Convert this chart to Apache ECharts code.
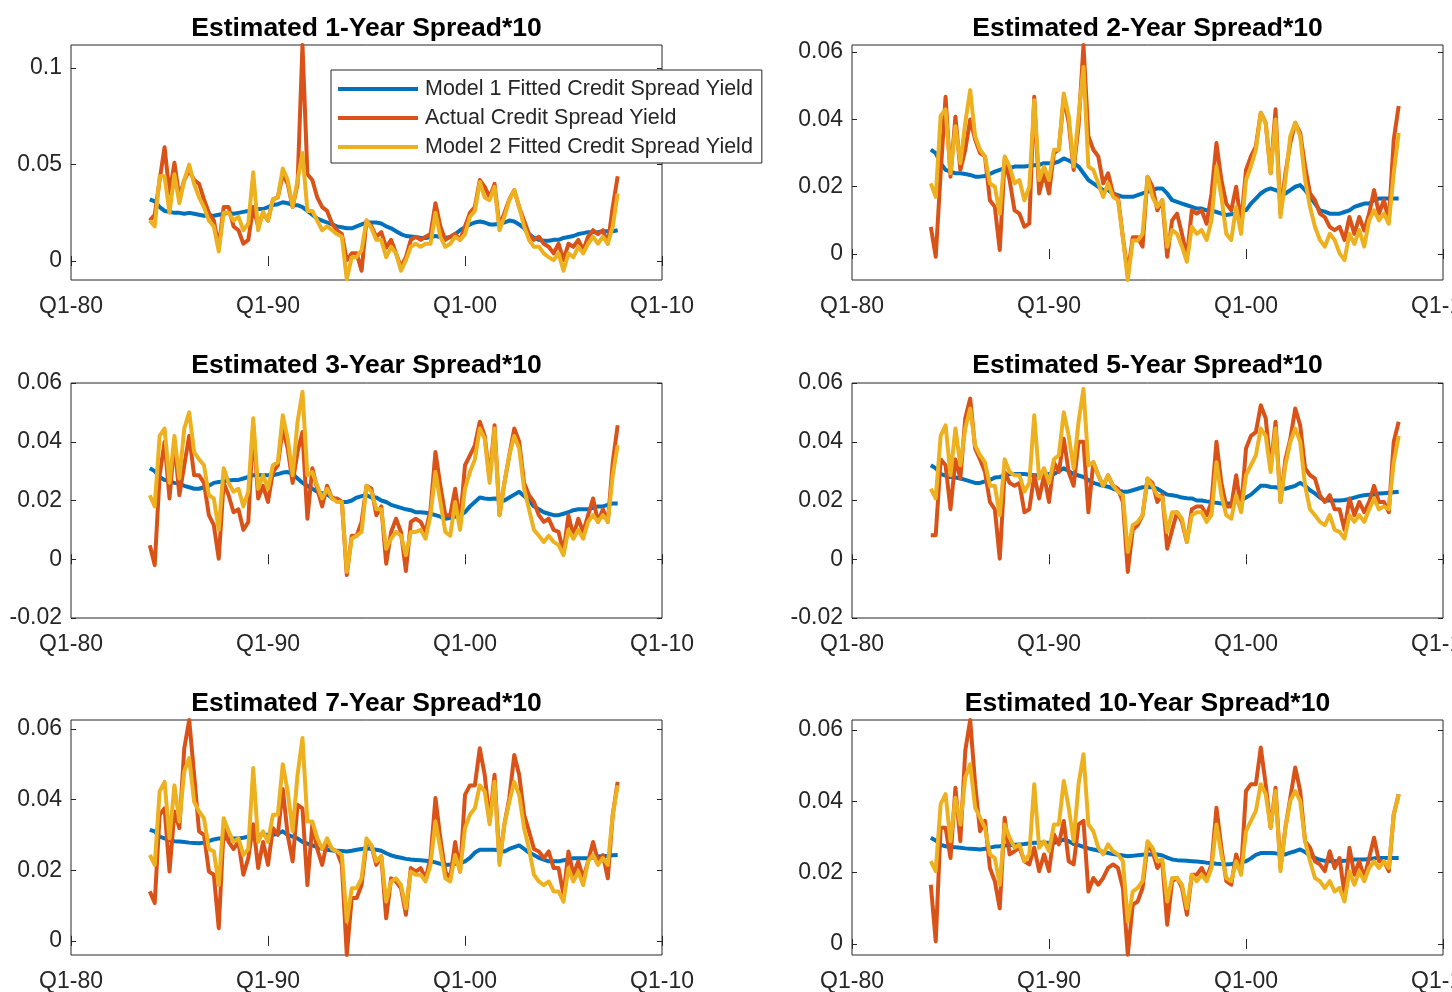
<!DOCTYPE html>
<html>
<head>
<meta charset="utf-8">
<script src="https://cdn.jsdelivr.net/npm/echarts@6/dist/echarts.min.js"></script>
<style>
  html, body { margin: 0; padding: 0; background: #ffffff; }
  #chart { width: 1452px; height: 992px; }
</style>
</head>
<body>
<div id="chart"></div>
<script>
// Quarterly observations starting in the first quarter of 1984
const firstYear = 1984;
const quarterCount = 96;

const xTickValues = [1980, 1990, 2000, 2010];
const xTickLabels = ['Q1-80', 'Q1-90', 'Q1-00', 'Q1-10'];

const seriesNames = [
  'Model 1 Fitted Credit Spread Yield',
  'Actual Credit Spread Yield',
  'Model 2 Fitted Credit Spread Yield'
];

const panelTitles = [
  'Estimated 1-Year Spread*10',
  'Estimated 2-Year Spread*10',
  'Estimated 3-Year Spread*10',
  'Estimated 5-Year Spread*10',
  'Estimated 7-Year Spread*10',
  'Estimated 10-Year Spread*10'
];

// y-axis limits and tick values for each panel
const yLimits1y = [-0.0098, 0.112];
const yLimits2y = [-0.0077, 0.0621];
const yLimits3y = [-0.02, 0.06];
const yLimits5y = [-0.02, 0.06];
const yLimits7y = [-0.004, 0.0625];
const yLimits10y = [-0.0031, 0.0628];
const yTicks1y = [0, 0.05, 0.1];
const yTicks2y = [0, 0.02, 0.04, 0.06];
const yTicks3y = [-0.02, 0, 0.02, 0.04, 0.06];
const yTicks5y = [-0.02, 0, 0.02, 0.04, 0.06];
const yTicks7y = [0, 0.02, 0.04, 0.06];
const yTicks10y = [0, 0.02, 0.04, 0.06];

// ---- 1-year ----
const model1_1y = [
  .032,.031,.028,.026,.0255,.025,.025,.0245,.025,.0245,
  .024,.0235,.0235,.0235,.024,.0245,.025,.0245,.025,.0255,
  .026,.027,.027,.027,.028,.029,.0295,.0305,.030,.029,
  .029,.028,.026,.024,.022,.021,.020,.019,.018,.0175,
  .017,.017,.018,.019,.020,.020,.020,.0195,.018,.017,
  .0155,.014,.013,.0128,.0125,.012,.012,.0125,.013,.0125,
  .012,.0125,.014,.016,.0175,.019,.020,.0205,.020,.019,
  .019,.0195,.020,.021,.0205,.019,.017,.014,.012,.011,
  .0105,.0105,.011,.011,.012,.0125,.013,.014,.0145,.015,
  .015,.015,.0155,.0155,.0155,.016
];
const actual_1y = [
  .021,.024,.042,.059,.035,.051,.033,.042,.047,.042,
  .040,.032,.025,.021,.0074,.028,.028,.018,.016,.009,
  .011,.028,.018,.025,.021,.032,.033,.045,.040,.028,
  .040,.112,.045,.042,.033,.028,.026,.0195,.016,.014,
  .0005,.004,.004,-.005,.021,.018,.0126,.015,.007,.011,
  .004,-.003,.002,.011,.0126,.011,.0126,.014,.030,.018,
  .011,.0126,.014,.011,.018,.025,.028,.042,.0385,.033,
  .040,.018,.025,.032,.0368,.028,.021,.014,.011,.0126,
  .009,.0074,.004,.009,.0005,.009,.0074,.011,.0057,.0126,
  .016,.014,.016,.009,.028,.044
];
const model2_1y = [
  .021,.018,.044,.044,.025,.045,.030,.042,.050,.040,
  .033,.028,.021,.018,.005,.025,.025,.021,.023,.016,
  .0195,.046,.016,.0255,.021,.032,.033,.048,.042,.028,
  .042,.056,.026,.026,.021,.016,.018,.016,.014,.0126,
  -.0095,.002,.002,.0057,.021,.017,.011,.011,.002,.0074,
  .004,-.005,.0005,.0074,.009,.0074,.009,.009,.025,.0126,
  .0074,.009,.0126,.011,.014,.023,.026,.041,.033,.0316,
  .0385,.016,.023,.0316,.0368,.028,.018,.011,.0074,.0074,
  .004,.002,.0005,.004,-.005,.004,.002,.0074,.004,.009,
  .0126,.009,.0126,.009,.018,.035
];

// ---- 2-year ----
const model1_2y = [
  .031,.030,.027,.025,.0245,.024,.024,.0238,.0235,.023,
  .023,.0232,.0238,.0245,.025,.0255,.0255,.026,.026,.026,
  .0262,.0264,.0265,.027,.027,.027,.0275,.0284,.0278,.027,
  .026,.024,.022,.021,.020,.019,.019,.018,.0175,.017,
  .017,.017,.0175,.018,.0185,.019,.0195,.0195,.018,.016,
  .0155,.015,.0145,.014,.0135,.0135,.013,.013,.0125,.012,
  .0116,.0118,.012,.013,.013,.015,.0165,.018,.019,.0195,
  .019,.0185,.018,.019,.020,.0205,.019,.017,.015,.013,
  .0126,.012,.012,.012,.0125,.013,.014,.0145,.015,.015,
  .016,.0165,.0165,.0165,.0165,.0165
];
const actual_2y = [
  .0081,-.0008,.024,.0467,.023,.0408,.025,.031,.040,.034,
  .030,.029,.016,.014,.0012,.028,.022,.013,.012,.0081,
  .0091,.0467,.018,.024,.018,.030,.031,.0467,.039,.025,
  .038,.0621,.035,.031,.029,.021,.024,.018,.017,.005,
  -.0057,.005,.005,.0022,.023,.020,.013,.016,-.0008,.010,
  .012,.006,-.0008,.013,.012,.013,.009,.018,.033,.022,
  .015,.013,.020,.009,.025,.029,.032,.042,.039,.024,
  .043,.012,.024,.033,.039,.036,.026,.018,.016,.012,
  .011,.0081,.0071,.0081,.0042,.011,.006,.011,.007,.012,
  .019,.012,.016,.010,.034,.044
];
const model2_2y = [
  .021,.017,.041,.043,.024,.038,.027,.039,.0487,.035,
  .031,.029,.021,.020,.012,.029,.026,.021,.022,.016,
  .020,.0457,.022,.026,.022,.031,.031,.0477,.041,.026,
  .041,.0556,.026,.025,.021,.017,.021,.017,.016,.005,
  -.0077,.004,.004,.006,.023,.017,.014,.016,.0022,.0071,
  .006,.0022,-.0023,.0081,.006,.0071,.0042,.010,.026,.017,
  .006,.0042,.014,.006,.022,.026,.031,.042,.039,.024,
  .040,.011,.022,.035,.039,.035,.022,.014,.0081,.0042,
  .0022,.006,.0042,.0002,-.0018,.006,.003,.0071,.0022,.010,
  .013,.010,.012,.009,.024,.036
];

// ---- 3-year ----
const model1_3y = [
  .031,.030,.028,.027,.0265,.026,.0258,.025,.0245,.024,
  .024,.0245,.025,.026,.0263,.0265,.0268,.027,.027,.0275,
  .028,.0286,.0286,.0286,.0286,.0286,.029,.0295,.0297,.029,
  .0275,.026,.025,.024,.023,.0225,.022,.021,.020,.0195,
  .0195,.020,.021,.0215,.0218,.021,.021,.020,.0195,.0185,
  .018,.0175,.017,.0167,.016,.016,.0158,.0155,.015,.0145,
  .0138,.014,.0145,.015,.016,.018,.0195,.021,.0207,.0205,
  .0207,.0205,.020,.021,.022,.023,.0215,.020,.018,.017,
  .016,.0155,.015,.015,.0155,.016,.0167,.017,.017,.017,
  .0175,.018,.018,.0185,.019,.019
];
const actual_3y = [
  .0048,-.002,.0286,.040,.0207,.040,.0218,.032,.042,.0286,
  .0286,.026,.015,.0116,.0002,.026,.0218,.016,.017,.010,
  .0127,.0456,.0207,.025,.0195,.0297,.032,.0445,.0377,.026,
  .0365,.0433,.0138,.031,.024,.018,.025,.0207,.0207,.0195,
  -.0054,.008,.008,.0127,.025,.024,.015,.018,-.0015,.0093,
  .0138,.0093,-.004,.0127,.0138,.0127,.0093,.017,.0365,.025,
  .015,.015,.024,.0127,.032,.0354,.0388,.0468,.042,.0275,
  .0456,.015,.026,.0354,.0445,.040,.026,.0218,.0195,.015,
  .0127,.0138,.010,.0093,.0025,.015,.008,.0138,.0093,.015,
  .0207,.0127,.017,.0127,.033,.0456
];
const model2_3y = [
  .0218,.018,.042,.0445,.026,.042,.0275,.0445,.050,.0365,
  .034,.032,.0218,.0207,.010,.031,.026,.023,.024,.018,
  .023,.048,.024,.0286,.024,.032,.033,.049,.041,.0286,
  .0468,.057,.0286,.0297,.025,.0207,.024,.0207,.0195,.0195,
  -.0043,.007,.008,.0093,.025,.023,.017,.017,.0036,.007,
  .0093,.008,.0014,.0093,.0093,.010,.007,.015,.0297,.0195,
  .0093,.008,.0195,.010,.024,.0297,.034,.0445,.041,.026,
  .0445,.015,.026,.0354,.042,.0377,.024,.017,.010,.008,
  .0059,.008,.0059,.0048,.0014,.010,.007,.010,.007,.0127,
  .015,.0127,.015,.0127,.0286,.0388
];

// ---- 5-year ----
const model1_5y = [
  .032,.031,.029,.0285,.028,.0278,.0275,.027,.0265,.026,
  .026,.0265,.027,.0278,.028,.0285,.029,.029,.029,.029,
  .0288,.0286,.0286,.0288,.029,.029,.030,.031,.030,.029,
  .0285,.028,.027,.026,.0255,.025,.0247,.024,.0235,.023,
  .023,.0235,.024,.0245,.0246,.0245,.024,.023,.022,.0218,
  .0215,.021,.0208,.0207,.020,.020,.0197,.0195,.0192,.019,
  .019,.019,.0195,.020,.021,.022,.0235,.025,.025,.0246,
  .0245,.0242,.024,.0245,.025,.026,.025,.0235,.0224,.021,
  .020,.020,.020,.020,.0202,.0205,.021,.0215,.0218,.022,
  .022,.0224,.0225,.0226,.0228,.023
];
const actual_5y = [
  .0082,.0082,.034,.032,.017,.034,.0275,.048,.0547,.0377,
  .034,.0297,.0195,.017,.0002,.0297,.026,.025,.026,.016,
  .017,.0286,.0207,.0286,.0195,.033,.0297,.041,.0297,.025,
  .040,.040,.016,.033,.0286,.025,.0286,.025,.024,.0195,
  -.0043,.010,.0116,.015,.0275,.026,.0195,.022,.0036,.010,
  .016,.0127,.0059,.017,.018,.018,.015,.0195,.040,.026,
  .018,.018,.0286,.017,.0377,.042,.0433,.0524,.048,.031,
  .0468,.0195,.034,.041,.0513,.0456,.031,.0286,.0275,.0218,
  .0195,.0218,.017,.017,.010,.0207,.015,.0195,.016,.0195,
  .025,.0195,.0195,.016,.040,.0468
];
const model2_5y = [
  .024,.0207,.042,.0456,.0286,.0445,.032,.0445,.0513,.0388,
  .0354,.033,.025,.025,.015,.034,.0297,.0286,.0286,.023,
  .026,.049,.0275,.031,.026,.034,.0354,.050,.042,.031,
  .0468,.058,.032,.033,.0286,.025,.0286,.025,.023,.0218,
  .0025,.0116,.0127,.015,.0275,.025,.0218,.021,.0093,.016,
  .016,.0138,.0059,.015,.016,.016,.0127,.015,.033,.0218,
  .015,.0138,.0218,.016,.0286,.032,.0354,.0445,.042,.0297,
  .0445,.0195,.032,.040,.0445,.040,.025,.017,.015,.0127,
  .0116,.015,.010,.0093,.007,.015,.0127,.015,.0127,.017,
  .0207,.017,.018,.017,.033,.042
];

// ---- 7-year ----
const model1_7y = [
  .0314,.031,.0295,.029,.0285,.0282,.0281,.028,.0278,.0277,
  .0276,.0278,.0282,.0287,.029,.029,.029,.029,.029,.0292,
  .0295,.030,.030,.030,.030,.030,.0303,.031,.030,.0295,
  .029,.028,.0275,.027,.0265,.026,.0258,.0256,.0255,.0254,
  .0253,.0255,.0258,.026,.0262,.026,.0258,.0255,.0248,.0242,
  .0238,.0235,.0232,.023,.0229,.0228,.0227,.0225,.0222,.0218,
  .0215,.0216,.0218,.022,.0225,.0235,.025,.0258,.0258,.0258,
  .0258,.0256,.0253,.026,.0265,.027,.026,.025,.0243,.0235,
  .023,.0225,.0225,.0225,.0228,.023,.0234,.0234,.0234,.0234,
  .0236,.0239,.024,.024,.0242,.0243
];
const actual_7y = [
  .014,.0107,.0357,.0375,.0196,.0366,.0319,.0545,.0625,.047,
  .031,.030,.0196,.0187,.0036,.0319,.028,.026,.028,.0187,
  .0234,.033,.0206,.028,.0215,.0319,.030,.043,.030,.0225,
  .0385,.0375,.0158,.033,.026,.0215,.028,.026,.0253,.0215,
  -.004,.0121,.0121,.0158,.028,.027,.0215,.024,.0064,.0177,
  .0168,.0149,.0074,.0206,.0196,.0206,.0177,.0234,.0404,.029,
  .0196,.0177,.028,.0196,.0413,.044,.044,.0545,.047,.0338,
  .047,.0225,.033,.0404,.0526,.047,.0357,.031,.026,.0253,
  .0234,.0253,.0206,.0206,.013,.0253,.0187,.0225,.0177,.0225,
  .028,.0225,.0243,.0177,.0357,.045
];
const model2_7y = [
  .0243,.0215,.0423,.045,.029,.044,.0338,.048,.0517,.0394,
  .0366,.0347,.026,.0253,.0158,.0347,.031,.028,.029,.0243,
  .026,.0489,.028,.031,.028,.0357,.0357,.050,.0423,.031,
  .047,.0574,.0338,.0338,.029,.026,.029,.026,.0253,.0243,
  .0055,.0149,.0149,.0177,.029,.027,.0225,.024,.0111,.0168,
  .0177,.0158,.0092,.0196,.0187,.0187,.0168,.0215,.0338,.026,
  .0177,.0168,.0243,.0196,.0319,.0357,.0375,.044,.0423,.033,
  .045,.0215,.033,.0394,.045,.0413,.0319,.026,.0187,.0168,
  .0158,.0168,.014,.014,.0111,.0206,.0168,.0196,.0158,.0225,
  .0243,.0215,.0234,.0215,.0357,.044
];

// ---- 10-year ----
const model1_10y = [
  .0298,.029,.0278,.0274,.0272,.0271,.027,.0268,.0267,.0266,
  .0265,.0267,.027,.0273,.0274,.0276,.0277,.0278,.0279,.028,
  .0282,.0284,.0284,.0284,.0284,.0284,.0287,.0293,.0288,.028,
  .0277,.0272,.0268,.0265,.0262,.0258,.0255,.0252,.025,.0248,
  .0246,.0247,.0249,.025,.0251,.0251,.0251,.0248,.0242,.0237,
  .0235,.0234,.0233,.0232,.0231,.023,.0228,.0227,.0225,.0224,
  .0223,.0224,.0226,.0229,.0232,.024,.025,.0255,.0255,.0255,
  .0254,.0252,.0251,.0256,.026,.0265,.0258,.0247,.0241,.0236,
  .0233,.0232,.0232,.0232,.0233,.0235,.0237,.0237,.0237,.0238,
  .024,.0241,.0241,.0241,.0241,.0241
];
const actual_10y = [
  .0166,.0007,.0326,.0326,.0241,.0438,.0288,.0542,.0628,.0448,
  .0316,.0345,.0213,.0176,.010,.0354,.0251,.026,.027,.0232,
  .0223,.027,.0204,.0251,.0204,.0307,.0279,.0345,.0232,.0223,
  .0335,.0345,.0147,.0185,.0166,.0185,.0213,.0223,.0213,.0157,
  -.003,.011,.0119,.0157,.0279,.026,.0213,.023,.0054,.0176,
  .0185,.0157,.0082,.0194,.0194,.0213,.0185,.0223,.0382,.027,
  .0176,.0166,.0251,.0204,.0429,.0448,.0448,.0551,.0448,.0326,
  .0438,.0213,.0326,.041,.0495,.0429,.0288,.027,.0232,.0223,
  .0204,.026,.0213,.0241,.0138,.027,.0194,.0232,.0185,.0241,
  .0298,.0232,.0232,.0204,.0363,.042
];
const model2_10y = [
  .0232,.0204,.0392,.042,.0288,.041,.0335,.0467,.0504,.0382,
  .0354,.0326,.0251,.0241,.0166,.0335,.0298,.027,.0279,.0232,
  .0251,.0448,.027,.0288,.026,.0335,.0335,.0457,.0382,.0288,
  .0448,.0532,.0335,.0316,.027,.0251,.0279,.026,.0251,.0232,
  .0063,.0147,.0157,.0176,.0288,.027,.0232,.0237,.0119,.0185,
  .0185,.0166,.01,.0194,.0176,.0194,.0176,.0213,.0335,.0251,
  .0185,.0176,.0232,.0194,.0316,.0345,.0373,.0448,.042,.0326,
  .0429,.0204,.0326,.0401,.0429,.0401,.0288,.0232,.0185,.0176,
  .0157,.0176,.0147,.0157,.0119,.0204,.0166,.0204,.0176,.0213,
  .0232,.0213,.0232,.0213,.0363,.042
];

// ---------------------------------------------------------------
const panels = [
  { series: [model1_1y, actual_1y, model2_1y], limits: yLimits1y, ticks: yTicks1y },
  { series: [model1_2y, actual_2y, model2_2y], limits: yLimits2y, ticks: yTicks2y },
  { series: [model1_3y, actual_3y, model2_3y], limits: yLimits3y, ticks: yTicks3y },
  { series: [model1_5y, actual_5y, model2_5y], limits: yLimits5y, ticks: yTicks5y },
  { series: [model1_7y, actual_7y, model2_7y], limits: yLimits7y, ticks: yTicks7y },
  { series: [model1_10y, actual_10y, model2_10y], limits: yLimits10y, ticks: yTicks10y }
];

// panel boxes (pixels)
const colLeft = [71, 852];
const rowTop = [45, 383, 720];
const boxW = 591, boxH = 235;
const titleCenterY = [26, 363, 701];

const lineColors = ['#0072BD', '#D95319', '#EDB120'];
const axisColor = '#262626';
const fontFamily = '"Liberation Sans", Arial, Helvetica, sans-serif';

const quarterDates = [];
for (let i = 0; i < quarterCount; i++) quarterDates.push(firstYear + i / 4);

const grids = [], xAxes = [], yAxes = [], series = [], titles = [];

panels.forEach((p, k) => {
  const col = k % 2, row = Math.floor(k / 2);
  const left = colLeft[col], top = rowTop[row];
  grids.push({
    left: left, top: top, width: boxW, height: boxH,
    outerBoundsMode: 'none', containLabel: false,
    show: true, borderColor: axisColor, borderWidth: 1, backgroundColor: '#ffffff'
  });
  titles.push({
    text: panelTitles[k],
    left: left + boxW / 2, top: titleCenterY[row] - 11,
    textAlign: 'center', padding: 0,
    textStyle: { fontFamily: fontFamily, fontSize: 26.5, fontWeight: 'bold', color: '#000000' }
  });
  const tickStyle = { show: true, inside: true, length: 5, lineStyle: { color: axisColor, width: 1 } };
  // bottom x axis with labels, top x axis with ticks only
  xAxes.push({
    type: 'value', gridIndex: k, position: 'bottom',
    min: xTickValues[0], max: xTickValues[xTickValues.length - 1], interval: 10,
    axisLine: { show: false }, splitLine: { show: false },
    axisTick: tickStyle,
    axisLabel: {
      show: true, margin: 15.5, fontSize: 23, color: axisColor, fontFamily: fontFamily,
      hideOverlap: false,
      formatter: v => xTickLabels[xTickValues.indexOf(Math.round(v))] || ''
    }
  });
  xAxes.push({
    type: 'value', gridIndex: k, position: 'top',
    min: xTickValues[0], max: xTickValues[xTickValues.length - 1], interval: 10,
    axisLine: { show: false }, splitLine: { show: false },
    axisTick: tickStyle, axisLabel: { show: false }
  });
  yAxes.push({
    type: 'value', gridIndex: k, position: 'left',
    min: p.limits[0], max: p.limits[1],
    axisLine: { show: false }, splitLine: { show: false },
    axisTick: Object.assign({ customValues: p.ticks }, tickStyle),
    axisLabel: {
      show: true, margin: 9, fontSize: 23, color: axisColor, fontFamily: fontFamily,
      customValues: p.ticks,
      formatter: v => String(parseFloat(v.toFixed(4)))
    }
  });
  yAxes.push({
    type: 'value', gridIndex: k, position: 'right',
    min: p.limits[0], max: p.limits[1],
    axisLine: { show: false }, splitLine: { show: false },
    axisTick: Object.assign({ customValues: p.ticks }, tickStyle),
    axisLabel: { show: false }
  });
  p.series.forEach((values, s) => {
    series.push({
      name: seriesNames[s], type: 'line',
      xAxisIndex: 2 * k, yAxisIndex: 2 * k,
      data: quarterDates.map((t, i) => [t, values[i]]),
      symbol: 'none', showSymbol: false, smooth: false,
      lineStyle: { color: lineColors[s], width: 4, join: 'round' },
      itemStyle: { color: lineColors[s] },
      z: 2 + s, clip: true, animation: false
    });
  });
});

const chart = echarts.init(document.getElementById('chart'), null, { renderer: 'canvas' });
chart.setOption({
  backgroundColor: '#ffffff',
  animation: false,
  title: titles,
  grid: grids,
  xAxis: xAxes,
  yAxis: yAxes,
  legend: {
    data: seriesNames,
    orient: 'vertical',
    left: 331, top: 70,
    padding: [8, 9, 5, 7],
    itemGap: 7,
    icon: 'rect',
    itemWidth: 80, itemHeight: 4,
    backgroundColor: '#ffffff',
    borderColor: axisColor, borderWidth: 1, borderRadius: 0,
    selectedMode: false,
    textStyle: { fontSize: 21.5, color: axisColor, fontFamily: fontFamily, padding: [0, 0, 0, 2], lineHeight: 22 },
    z: 10
  },
  series: series
});
</script>
</body>
</html>
